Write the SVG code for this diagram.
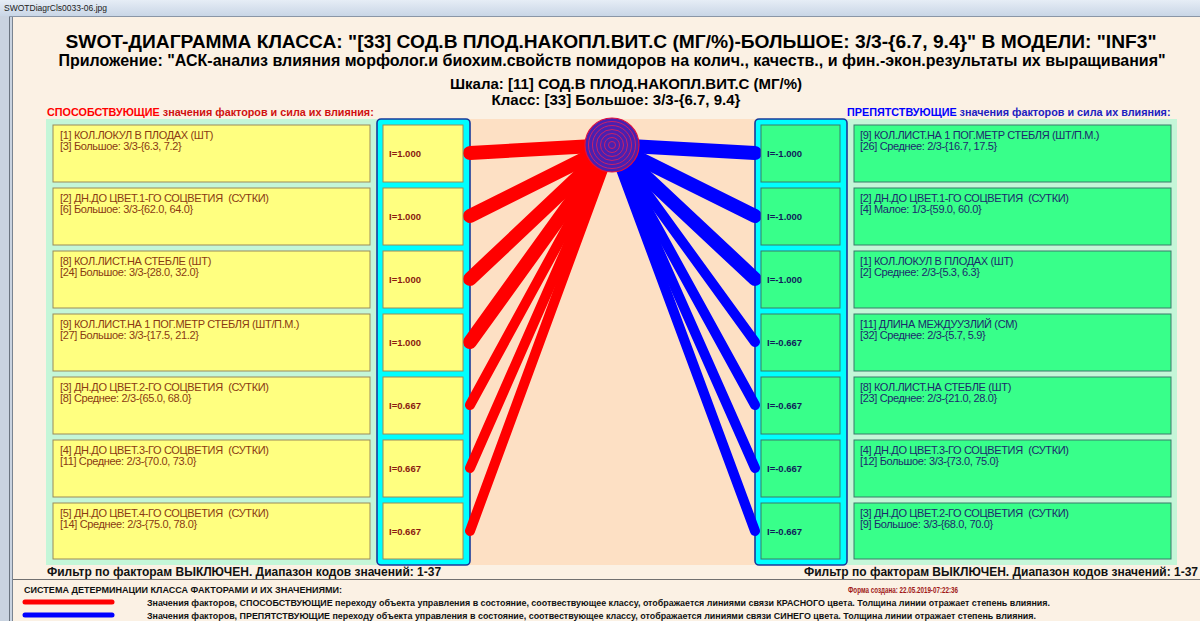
<svg xmlns="http://www.w3.org/2000/svg" width="1200" height="621" viewBox="0 0 1200 621">
<defs>
<linearGradient id="bar" x1="0" y1="0" x2="0" y2="1">
<stop offset="0" stop-color="#e6edf6"/><stop offset="1" stop-color="#c9d6e6"/>
</linearGradient>
<style>
text{font-family:"Liberation Sans",Arial,sans-serif;white-space:pre}
.h1{font-size:19.2px;font-weight:bold;fill:#000}
.h2{font-size:16px;font-weight:bold;fill:#000}
.h3{font-size:15px;font-weight:bold;fill:#000}
.lbl{font-size:10.8px;font-weight:bold}
.yb{fill:#ffff80;stroke:#9a8a5a;stroke-width:1}
.gb{fill:#38ff8a;stroke:#3a7a6a;stroke-width:1}
.col{fill:#00ffff;stroke:#1a3a9a;stroke-width:1.6}
.lt{font-size:11px;fill:#8a3a12;letter-spacing:-0.35px}
.rt{font-size:11px;fill:#1c2a6c;letter-spacing:-0.35px}
.li{font-size:9.5px;font-weight:bold;fill:#8a1a10}
.ri{font-size:9.5px;font-weight:bold;fill:#101c5a}
.red{stroke:#ff0000;stroke-linecap:round;fill:none}
.blue{stroke:#0000ff;stroke-linecap:round;fill:none}
.flt{font-size:12px;font-weight:bold;fill:#111}
.sm{font-size:9px;font-weight:bold;fill:#111}
</style>
</defs>
<!-- window chrome -->
<rect x="0" y="0" width="1200" height="621" fill="#c9d3e0"/>
<rect x="0" y="0" width="1200" height="16" fill="url(#bar)"/>
<text x="4" y="11" style="font-size:8.5px;fill:#222">SWOTDiagrCls0033-06.jpg</text>
<rect x="13" y="16" width="1187" height="605" fill="#fbf1e4"/>
<line x1="9.5" y1="16" x2="9.5" y2="621" stroke="#6a7480" stroke-width="1"/>
<line x1="12.5" y1="16" x2="12.5" y2="621" stroke="#7a8490" stroke-width="1"/>
<line x1="9" y1="16.5" x2="1200" y2="16.5" stroke="#8a96a6" stroke-width="1"/>
<!-- titles -->
<text class="h1" x="611" y="48" text-anchor="middle">SWOT-ДИАГРАММА КЛАССА: "[33] СОД.В ПЛОД.НАКОПЛ.ВИТ.С (МГ/%)-БОЛЬШОЕ: 3/3-{6.7, 9.4}" В МОДЕЛИ: "INF3"</text>
<text class="h2" x="612" y="66" text-anchor="middle">Приложение: "АСК-анализ влияния морфолог.и биохим.свойств помидоров на колич., качеств., и фин.-экон.результаты их выращивания"</text>
<text class="h3" x="626" y="89" text-anchor="middle">Шкала: [11] СОД.В ПЛОД.НАКОПЛ.ВИТ.С (МГ/%)</text>
<text class="h3" x="616" y="105" text-anchor="middle">Класс: [33] Большое: 3/3-{6.7, 9.4}</text>
<text class="lbl" x="47" y="116"><tspan fill="#ff0000">СПОСОБСТВУЮЩИЕ</tspan><tspan fill="#d01010"> значения факторов и сила их влияния:</tspan></text>
<text class="lbl" x="847" y="116"><tspan fill="#0000ff">ПРЕПЯТСТВУЮЩИЕ</tspan><tspan fill="#2020c0"> значения факторов и сила их влияния:</tspan></text>
<!-- panels -->
<rect x="46" y="119" width="331" height="446" fill="#c4f6d8"/>
<rect x="847" y="119" width="330" height="446" fill="#c4f6d8"/>
<rect x="470" y="119" width="285" height="446" fill="#fde0c4"/>
<rect class="col" x="377" y="119" width="93" height="446" rx="4"/>
<rect class="col" x="755" y="119" width="92" height="446" rx="4"/>
<!-- connectors -->
<g id="connectors">
<line class="red" x1="612" y1="145" x2="470" y2="153" stroke-width="14"/>
<line class="red" x1="612" y1="145" x2="470" y2="216" stroke-width="14"/>
<line class="red" x1="612" y1="145" x2="470" y2="279" stroke-width="14"/>
<line class="red" x1="612" y1="145" x2="470" y2="342" stroke-width="14"/>
<line class="red" x1="612" y1="145" x2="470" y2="405" stroke-width="10"/>
<line class="red" x1="612" y1="145" x2="470" y2="468" stroke-width="10"/>
<line class="red" x1="612" y1="145" x2="470" y2="531" stroke-width="10"/>
<line class="blue" x1="612" y1="145" x2="755" y2="153" stroke-width="14"/>
<line class="blue" x1="612" y1="145" x2="755" y2="216" stroke-width="14"/>
<line class="blue" x1="612" y1="145" x2="755" y2="279" stroke-width="14"/>
<line class="blue" x1="612" y1="145" x2="755" y2="342" stroke-width="10"/>
<line class="blue" x1="612" y1="145" x2="755" y2="405" stroke-width="10"/>
<line class="blue" x1="612" y1="145" x2="755" y2="468" stroke-width="10"/>
<line class="blue" x1="612" y1="145" x2="755" y2="531" stroke-width="10"/>
</g>
<!-- class node -->
<g id="class-node">
<circle cx="612" cy="145" r="27" fill="#4a20b0" stroke="#e01040" stroke-width="1.2"/>
<g fill="none" stroke="#c82068" stroke-width="1">
<circle cx="612" cy="145" r="23.5"/><circle cx="612" cy="145" r="19.5"/><circle cx="612" cy="145" r="15.5"/><circle cx="612" cy="145" r="11.5"/><circle cx="612" cy="145" r="7.5"/><circle cx="612" cy="145" r="3.5"/>
</g>
</g>
<!-- left factor nodes -->
<g id="L1"><rect class="yb" x="53" y="125" width="317" height="57"/><text class="lt" x="60" y="139">[1] КОЛ.ЛОКУЛ В ПЛОДАХ (ШТ)</text><text class="lt" x="60" y="150">[3] Большое: 3/3-{6.3, 7.2}</text><rect class="yb" x="383" y="125" width="80" height="57"/><text class="li" x="389" y="157">I=1.000</text></g>
<g id="L2"><rect class="yb" x="53" y="188" width="317" height="57"/><text class="lt" x="60" y="202">[2] ДН.ДО ЦВЕТ.1-ГО СОЦВЕТИЯ  (СУТКИ)</text><text class="lt" x="60" y="213">[6] Большое: 3/3-{62.0, 64.0}</text><rect class="yb" x="383" y="188" width="80" height="57"/><text class="li" x="389" y="220">I=1.000</text></g>
<g id="L3"><rect class="yb" x="53" y="251" width="317" height="57"/><text class="lt" x="60" y="265">[8] КОЛ.ЛИСТ.НА СТЕБЛЕ (ШТ)</text><text class="lt" x="60" y="276">[24] Большое: 3/3-{28.0, 32.0}</text><rect class="yb" x="383" y="251" width="80" height="57"/><text class="li" x="389" y="283">I=1.000</text></g>
<g id="L4"><rect class="yb" x="53" y="314" width="317" height="57"/><text class="lt" x="60" y="328">[9] КОЛ.ЛИСТ.НА 1 ПОГ.МЕТР СТЕБЛЯ (ШТ/П.М.)</text><text class="lt" x="60" y="339">[27] Большое: 3/3-{17.5, 21.2}</text><rect class="yb" x="383" y="314" width="80" height="57"/><text class="li" x="389" y="346">I=1.000</text></g>
<g id="L5"><rect class="yb" x="53" y="377" width="317" height="57"/><text class="lt" x="60" y="391">[3] ДН.ДО ЦВЕТ.2-ГО СОЦВЕТИЯ  (СУТКИ)</text><text class="lt" x="60" y="402">[8] Среднее: 2/3-{65.0, 68.0}</text><rect class="yb" x="383" y="377" width="80" height="57"/><text class="li" x="389" y="409">I=0.667</text></g>
<g id="L6"><rect class="yb" x="53" y="440" width="317" height="57"/><text class="lt" x="60" y="454">[4] ДН.ДО ЦВЕТ.3-ГО СОЦВЕТИЯ  (СУТКИ)</text><text class="lt" x="60" y="465">[11] Среднее: 2/3-{70.0, 73.0}</text><rect class="yb" x="383" y="440" width="80" height="57"/><text class="li" x="389" y="472">I=0.667</text></g>
<g id="L7"><rect class="yb" x="53" y="503" width="317" height="56"/><text class="lt" x="60" y="517">[5] ДН.ДО ЦВЕТ.4-ГО СОЦВЕТИЯ  (СУТКИ)</text><text class="lt" x="60" y="528">[14] Среднее: 2/3-{75.0, 78.0}</text><rect class="yb" x="383" y="503" width="80" height="56"/><text class="li" x="389" y="535">I=0.667</text></g>
<!-- right factor nodes -->
<g id="R1"><rect class="gb" x="761" y="125" width="79" height="57"/><text class="ri" x="767" y="157">I=-1.000</text><rect class="gb" x="854" y="125" width="317" height="57"/><text class="rt" x="860" y="139">[9] КОЛ.ЛИСТ.НА 1 ПОГ.МЕТР СТЕБЛЯ (ШТ/П.М.)</text><text class="rt" x="860" y="150">[26] Среднее: 2/3-{16.7, 17.5}</text></g>
<g id="R2"><rect class="gb" x="761" y="188" width="79" height="57"/><text class="ri" x="767" y="220">I=-1.000</text><rect class="gb" x="854" y="188" width="317" height="57"/><text class="rt" x="860" y="202">[2] ДН.ДО ЦВЕТ.1-ГО СОЦВЕТИЯ  (СУТКИ)</text><text class="rt" x="860" y="213">[4] Малое: 1/3-{59.0, 60.0}</text></g>
<g id="R3"><rect class="gb" x="761" y="251" width="79" height="57"/><text class="ri" x="767" y="283">I=-1.000</text><rect class="gb" x="854" y="251" width="317" height="57"/><text class="rt" x="860" y="265">[1] КОЛ.ЛОКУЛ В ПЛОДАХ (ШТ)</text><text class="rt" x="860" y="276">[2] Среднее: 2/3-{5.3, 6.3}</text></g>
<g id="R4"><rect class="gb" x="761" y="314" width="79" height="57"/><text class="ri" x="767" y="346">I=-0.667</text><rect class="gb" x="854" y="314" width="317" height="57"/><text class="rt" x="860" y="328">[11] ДЛИНА МЕЖДУУЗЛИЙ (СМ)</text><text class="rt" x="860" y="339">[32] Среднее: 2/3-{5.7, 5.9}</text></g>
<g id="R5"><rect class="gb" x="761" y="377" width="79" height="57"/><text class="ri" x="767" y="409">I=-0.667</text><rect class="gb" x="854" y="377" width="317" height="57"/><text class="rt" x="860" y="391">[8] КОЛ.ЛИСТ.НА СТЕБЛЕ (ШТ)</text><text class="rt" x="860" y="402">[23] Среднее: 2/3-{21.0, 28.0}</text></g>
<g id="R6"><rect class="gb" x="761" y="440" width="79" height="57"/><text class="ri" x="767" y="472">I=-0.667</text><rect class="gb" x="854" y="440" width="317" height="57"/><text class="rt" x="860" y="454">[4] ДН.ДО ЦВЕТ.3-ГО СОЦВЕТИЯ  (СУТКИ)</text><text class="rt" x="860" y="465">[12] Большое: 3/3-{73.0, 75.0}</text></g>
<g id="R7"><rect class="gb" x="761" y="503" width="79" height="56"/><text class="ri" x="767" y="535">I=-0.667</text><rect class="gb" x="854" y="503" width="317" height="56"/><text class="rt" x="860" y="517">[3] ДН.ДО ЦВЕТ.2-ГО СОЦВЕТИЯ  (СУТКИ)</text><text class="rt" x="860" y="528">[9] Большое: 3/3-{68.0, 70.0}</text></g>
<!-- footer -->
<text class="flt" x="47" y="576">Фильтр по факторам ВЫКЛЮЧЕН. Диапазон кодов значений: 1-37</text>
<text class="flt" x="1198" y="576" text-anchor="end">Фильтр по факторам ВЫКЛЮЧЕН. Диапазон кодов значений: 1-37</text>
<line x1="13" y1="579.5" x2="1200" y2="579.5" stroke="#707070" stroke-width="1"/>
<text class="sm" x="24" y="593" textLength="318" lengthAdjust="spacingAndGlyphs">СИСТЕМА ДЕТЕРМИНАЦИИ КЛАССА ФАКТОРАМИ И ИХ ЗНАЧЕНИЯМИ:</text>
<text class="sm" x="848" y="593" style="fill:#a01818" textLength="110" lengthAdjust="spacingAndGlyphs">Форма создана: 22.05.2019-07:22:36</text>
<line x1="25" y1="602" x2="112" y2="602" stroke="#ff0000" stroke-width="5" stroke-linecap="round"/>
<line x1="25" y1="615" x2="112" y2="615" stroke="#0000ff" stroke-width="5" stroke-linecap="round"/>
<text class="sm" x="147" y="606" textLength="903" lengthAdjust="spacingAndGlyphs">Значения факторов, СПОСОБСТВУЮЩИЕ переходу объекта управления в состояние, соотвествующее классу, отображается линиями связи КРАСНОГО цвета. Толщина линии отражает степень влияния.</text>
<text class="sm" x="147" y="619" textLength="889" lengthAdjust="spacingAndGlyphs">Значения факторов, ПРЕПЯТСТВУЮЩИЕ переходу объекта управления в состояние, соотвествующее классу, отображается линиями связи СИНЕГО цвета. Толщина линии отражает степень влияния.</text>
</svg>
